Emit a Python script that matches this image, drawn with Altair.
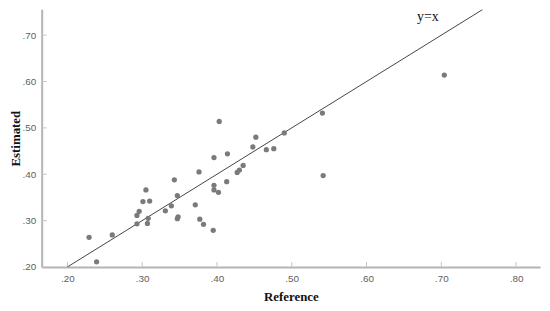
import altair as alt
import pandas as pd

# Data
reference = [0.229, 0.239, 0.260, 0.293, 0.293, 0.296, 0.301, 0.305, 0.307, 0.308,
             0.310, 0.331, 0.339, 0.343, 0.347, 0.347, 0.348, 0.371, 0.376, 0.377,
             0.382, 0.395, 0.396, 0.396, 0.396, 0.402, 0.403, 0.413, 0.414, 0.427,
             0.430, 0.435, 0.448, 0.452, 0.466, 0.476, 0.490, 0.541, 0.542, 0.704]
estimated = [0.264, 0.211, 0.269, 0.311, 0.293, 0.320, 0.341, 0.366, 0.294, 0.305,
             0.342, 0.321, 0.332, 0.388, 0.354, 0.304, 0.308, 0.334, 0.405, 0.303,
             0.292, 0.279, 0.436, 0.376, 0.366, 0.361, 0.514, 0.384, 0.444, 0.404,
             0.409, 0.419, 0.459, 0.480, 0.453, 0.455, 0.489, 0.532, 0.397, 0.614]
line_vals = [0.20, 0.755]
x_ticks = [0.20, 0.30, 0.40, 0.50, 0.60, 0.70, 0.80]
y_ticks = [0.20, 0.30, 0.40, 0.50, 0.60, 0.70]
label_text = ["y=x"]
label_x = [0.682]
label_y = [0.738]

W, H = 503, 260
x_dom = [0.1656, 0.832]
y_dom = [0.20, 0.7556]

pts = pd.DataFrame({"Reference": reference, "Estimated": estimated})
line_df = pd.DataFrame({"x": line_vals, "y": line_vals})
xt_df = pd.DataFrame({"v": x_ticks})
yt_df = pd.DataFrame({"v": y_ticks})
lab_df = pd.DataFrame({"t": label_text, "x": label_x, "y": label_y})

lab_expr = "substring(format(datum.value, '.2f'), 1)"

xscale = alt.Scale(domain=x_dom, nice=False, zero=False)
yscale = alt.Scale(domain=y_dom, nice=False, zero=False)

x_axis = alt.Axis(values=x_ticks, labelExpr=lab_expr, grid=False, ticks=False, tickSize=0,
                  domainColor="#b4b4b4", domainWidth=2, labelColor="#5e5e5e",
                  labelFont="Liberation Sans", labelFontSize=10, labelPadding=7,
                  title="Reference", titleFont="Liberation Serif", titleFontSize=13,
                  titleFontWeight="bold", titleColor="#111111",
                  titleX=W / 2, titleY=30, titleBaseline="middle", titleAlign="center")
y_axis = alt.Axis(values=y_ticks, labelExpr=lab_expr, grid=False, ticks=False, tickSize=0,
                  domainColor="#b4b4b4", domainWidth=2, labelColor="#5e5e5e",
                  labelFont="Liberation Sans", labelFontSize=10, labelPadding=6,
                  title="Estimated", titleFont="Liberation Serif", titleFontSize=13,
                  titleFontWeight="bold", titleColor="#111111",
                  titleX=-26, titleY=H / 2, titleBaseline="middle", titleAlign="center",
                  titleAngle=270)

points = alt.Chart(pts).mark_circle(size=28, color="#7a7a7a", opacity=1).encode(
    x=alt.X("Reference:Q", scale=xscale, axis=x_axis),
    y=alt.Y("Estimated:Q", scale=yscale, axis=y_axis),
)

line = alt.Chart(line_df).mark_line(color="#444444", strokeWidth=1, clip=True).encode(
    x=alt.X("x:Q", scale=xscale),
    y=alt.Y("y:Q", scale=yscale),
)

xticks = alt.Chart(xt_df).mark_rule(color="#c4c4c4", strokeWidth=1).encode(
    x=alt.X("v:Q", scale=xscale),
    y=alt.value(H),
    y2=alt.value(H - 5),
)
yticks = alt.Chart(yt_df).mark_rule(color="#c4c4c4", strokeWidth=1).encode(
    y=alt.Y("v:Q", scale=yscale),
    x=alt.value(0),
    x2=alt.value(5),
)

label = alt.Chart(lab_df).mark_text(font="Liberation Serif", fontSize=14, color="#111111",
                                    align="center", baseline="middle").encode(
    x=alt.X("x:Q", scale=xscale),
    y=alt.Y("y:Q", scale=yscale),
    text="t:N",
)

chart = alt.layer(xticks, yticks, line, points, label).properties(
    width=W, height=H,
    autosize=alt.AutoSizeParams(type="none"),
    padding={"left": 34, "top": 0, "right": 2, "bottom": 35},
).configure_view(stroke=None)

chart.save("out.html", embed_options={"renderer": "svg", "actions": False})
